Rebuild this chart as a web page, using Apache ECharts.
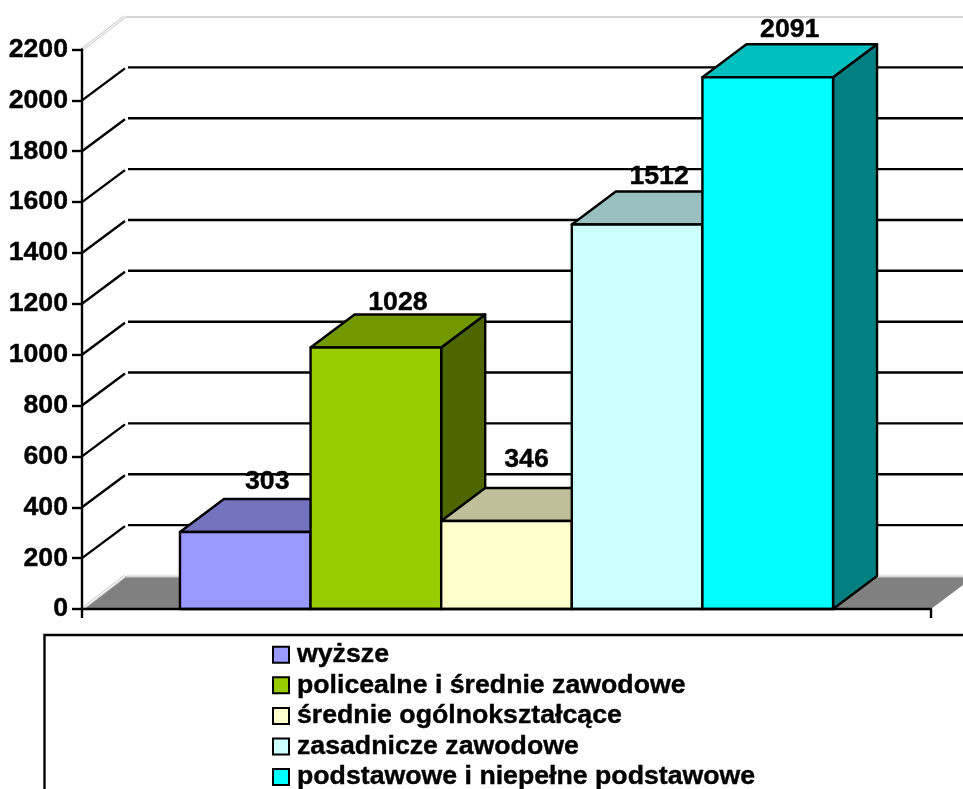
<!DOCTYPE html>
<html><head><meta charset="utf-8">
<style>html,body{margin:0;padding:0;background:#fff;overflow:hidden}#c{width:963px;height:789px}</style>
<script src="https://cdn.jsdelivr.net/npm/echarts@6/dist/echarts.min.js"></script>
</head><body><div id="c"></div>
<script>
const categories = ['wyższe','policealne i średnie zawodowe','średnie ogólnokształcące','zasadnicze zawodowe','podstawowe i niepełne podstawowe'];
const values = [303,1028,346,1512,2091];
const colors = ['#9999FF','#99CC00','#FFFFCC','#CCFFFF','#00FFFF'];
const yTicks = [0,200,400,600,800,1000,1200,1400,1600,1800,2000,2200];
const labelLift = [50,45,61,48,48];
const labelShift = [22,22,20,22,22];

const DX = 44, DY = 33, SIZE = 26.7, FAMILY = '"Liberation Sans", Arial, sans-serif';
const FONT = `bold ${SIZE}px ${FAMILY}`;
const LW = 2.4;
const shade = (hex, k) => {
  const n = parseInt(hex.slice(1), 16);
  const c = s => Math.round(((n >> s) & 255) * k);
  return `rgb(${c(16)},${c(8)},${c(0)})`;
};
const line = (pts, stroke, lw) => ({type:'polyline', shape:{points:pts}, style:{stroke, lineWidth:lw, fill:null}, silent:true});
const poly = (pts, fill, stroke, lw) => ({type:'polygon', shape:{points:pts}, style:{fill, stroke, lineWidth:lw, lineJoin:'round'}, silent:true});

function renderWall(params, api) {
  const cs = params.coordSys;
  const t = api.value(1);
  const y = api.coord([0, t])[1];
  const L = cs.x, R = cs.x + cs.width;
  const kids = [];
  if (t === 0) {
    kids.push(poly([[L,y],[L+DX,y-DY],[R+DX,y-DY],[R,y]], '#808080'));
  }
  if (t === 0 || t === yTicks[yTicks.length-1]) {
    kids.push(line([[L,y],[L+DX-1,y-DY]], '#d4d4d4', 3), line([[L,y],[L+DX-1,y-DY]], '#fff', 1));
    kids.push(line([[L+DX,y-DY],[R+DX,y-DY]], '#d4d4d4', 3), line([[L+DX,y-DY-1],[R+DX,y-DY-1]], '#fff', 1));
  } else {
    kids.push(line([[L,y],[L+DX-1,y-DY+1]], '#000', LW));
    kids.push(line([[L+DX+2,y-DY],[R+DX,y-DY]], '#000', LW));
  }
  return {type:'group', children:kids};
}
function barRender(i) {
  return function (params, api) {
    const top = api.coord([0, api.value(1)]);
    const base = api.coord([0, 0]);
    const band = api.size([1, 0])[0];
    const w = band / 6.5;
    const x0 = params.coordSys.x + w * (0.75 + i), x1 = x0 + w;
    const yT = top[1], yB = base[1];
    const c = colors[i];
    return {type:'group', children:[
      poly([[x1,yB],[x1+DX,yB-DY],[x1+DX,yT-DY],[x1,yT]], shade(c,0.5), '#000', LW),
      poly([[x0,yT],[x0+DX,yT-DY],[x1+DX,yT-DY],[x1,yT]], shade(c,0.75), '#000', LW),
      poly([[x0,yT],[x1,yT],[x1,yB],[x0,yB]], c, '#000', LW)
    ]};
  };
}
function renderLabel(params, api) {
  const i = params.dataIndex;
  const top = api.coord([0, api.value(1)]);
  const band = api.size([1, 0])[0];
  const w = band / 6.5;
  const cx = params.coordSys.x + w * (0.75 + i + 0.5) + labelShift[i];
  return {type:'text', silent:true, x:cx, y:top[1]-labelLift[i],
    style:{text:String(api.value(1)), fill:'#000', stroke:'#000', lineWidth:0.4, font:FONT, textAlign:'center', verticalAlign:'middle'}};
}

const series = [
  {name:'wall', type:'custom', z:1, renderItem:renderWall, encode:{x:0,y:1}, data:yTicks.map(t=>[0,t]), silent:true}
];
categories.forEach((name,i)=>series.push({
  name, type:'custom', z:3+i, renderItem:barRender(i), encode:{x:0,y:1},
  itemStyle:{color:colors[i]}, data:[[0,values[i]]], silent:true
}));
series.push({name:'labels', type:'custom', z:20, renderItem:renderLabel, encode:{x:0,y:1}, data:values.map(v=>[0,v]), silent:true});

const chart = echarts.init(document.getElementById('c'), null, {renderer:'canvas'});
chart.setOption({
  animation:false,
  backgroundColor:'#fff',
  grid:{left:82, right:32, top:49.5, bottom:180},
  xAxis:{type:'category', data:[''], z:15,
    axisLine:{lineStyle:{color:'#000',width:LW}},
    axisTick:{show:true,length:9,lineStyle:{color:'#000',width:LW}},
    axisLabel:{show:false}, splitLine:{show:false}},
  yAxis:{type:'value', min:0, max:2200, interval:200, z:15,
    axisLine:{show:true,lineStyle:{color:'#000',width:LW}},
    axisTick:{show:true,length:10,lineStyle:{color:'#000',width:LW}},
    axisLabel:{margin:14,color:'#000',fontFamily:FAMILY,fontWeight:'bold',fontSize:SIZE,textBorderColor:'#000',textBorderWidth:0.4,formatter:v=>String(v)},
    splitLine:{show:false}},
  legend:{show:true, orient:'vertical', left:272, top:641, height:160, padding:0, selectedMode:false,
    itemWidth:16,itemHeight:16,itemGap:3.2,
    itemStyle:{borderColor:'#000',borderWidth:2},
    textStyle:{color:'#000',fontFamily:FAMILY,fontWeight:'bold',fontSize:SIZE,textBorderColor:'#000',textBorderWidth:0.4,padding:[0,0,0,3]},
    data:categories.map(name=>({name,icon:'rect'}))},
  graphic:[{type:'rect',silent:true,z:0,shape:{x:44.5,y:635,width:1000,height:300},style:{fill:'#fff',stroke:'#000',lineWidth:LW}}],
  series
});
</script></body></html>
